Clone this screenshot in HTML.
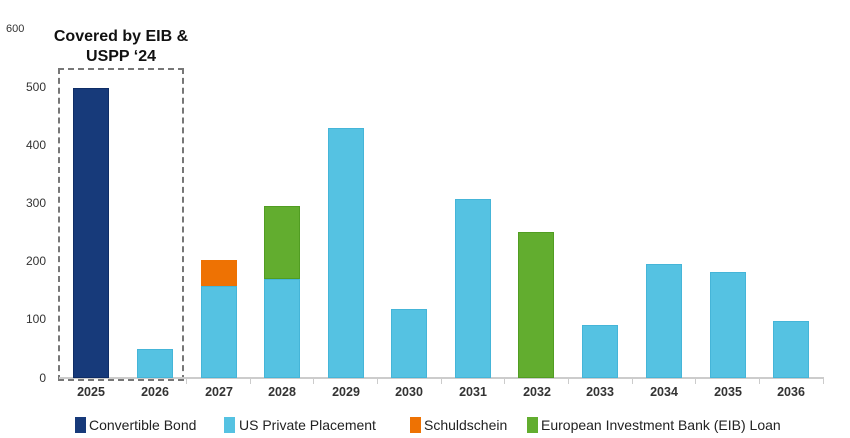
<!DOCTYPE html>
<html><head><meta charset="utf-8"><style>
body{margin:0;background:#fff;width:850px;height:438px;overflow:hidden;position:relative;font-family:"Liberation Sans",Arial,sans-serif}
.b{position:absolute;width:36px;box-sizing:border-box}
.n{background:#173a7a;border:1px solid #0f2d66}
.l{background:#55c2e2;border:1px solid #45b5d8}
.o{background:#ee7203}
.g{background:#62ad2f;border:1px solid #519d22}
.y{position:absolute;font-size:12px;color:#333;width:40px;text-align:right}
.x{position:absolute;top:385px;font-size:12.5px;color:#333;width:64px;text-align:center;font-weight:bold}
.t{position:absolute;top:378px;width:1px;height:6px;background:#ccc}
.lg{position:absolute;top:417px;width:11px;height:16px}
.lt{position:absolute;top:417px;font-size:14px;color:#222;white-space:nowrap}
</style></head><body>
<div class="y" style="left:6px;top:23px;font-size:11px;text-align:left">600</div>
<div class="y" style="left:6px;top:80px">500</div>
<div class="y" style="left:6px;top:138px">400</div>
<div class="y" style="left:6px;top:196px">300</div>
<div class="y" style="left:6px;top:254px">200</div>
<div class="y" style="left:6px;top:312px">100</div>
<div class="y" style="left:6px;top:371px">0</div>
<div style="position:absolute;left:41px;top:27px;width:160px;text-align:center;font-weight:bold;font-size:16px;line-height:20px;color:#111;white-space:nowrap">Covered by EIB &amp;<br>USPP ‘24</div>
<div style="position:absolute;left:58px;top:68px;width:126px;height:313px;border:2px dashed #777;box-sizing:border-box"></div>
<div style="position:absolute;left:59px;top:377px;width:765px;height:1.5px;background:#ccc"></div>
<div class="t" style="left:186px"></div><div class="t" style="left:250px"></div><div class="t" style="left:313px"></div><div class="t" style="left:377px"></div><div class="t" style="left:441px"></div><div class="t" style="left:504px"></div><div class="t" style="left:568px"></div><div class="t" style="left:632px"></div><div class="t" style="left:695px"></div><div class="t" style="left:759px"></div><div class="t" style="left:823px"></div>
<div class="b n" style="left:73px;top:88px;height:290px"></div>
<div class="b l" style="left:137px;top:349px;height:29px"></div>
<div class="b o" style="left:201px;top:260px;height:26px"></div>
<div class="b l" style="left:201px;top:286px;height:92px"></div>
<div class="b g" style="left:264px;top:206px;height:73px"></div>
<div class="b l" style="left:264px;top:279px;height:99px"></div>
<div class="b l" style="left:328px;top:128px;height:250px"></div>
<div class="b l" style="left:391px;top:309px;height:69px"></div>
<div class="b l" style="left:455px;top:199px;height:179px"></div>
<div class="b g" style="left:518px;top:232px;height:146px"></div>
<div class="b l" style="left:582px;top:325px;height:53px"></div>
<div class="b l" style="left:646px;top:264px;height:114px"></div>
<div class="b l" style="left:710px;top:272px;height:106px"></div>
<div class="b l" style="left:773px;top:321px;height:57px"></div>
<div class="x" style="left:59px">2025</div><div class="x" style="left:123px">2026</div><div class="x" style="left:187px">2027</div><div class="x" style="left:250px">2028</div><div class="x" style="left:314px">2029</div><div class="x" style="left:377px">2030</div><div class="x" style="left:441px">2031</div><div class="x" style="left:505px">2032</div><div class="x" style="left:568px">2033</div><div class="x" style="left:632px">2034</div><div class="x" style="left:696px">2035</div><div class="x" style="left:759px">2036</div>
<div class="lg" style="left:75px;background:#173a7a"></div><div class="lt" style="left:89px">Convertible Bond</div>
<div class="lg" style="left:224px;background:#55c2e2"></div><div class="lt" style="left:239px">US Private Placement</div>
<div class="lg" style="left:410px;background:#ee7203"></div><div class="lt" style="left:424px">Schuldschein</div>
<div class="lg" style="left:527px;background:#62ad2f"></div><div class="lt" style="left:541px">European Investment Bank (EIB) Loan</div>
</body></html>
